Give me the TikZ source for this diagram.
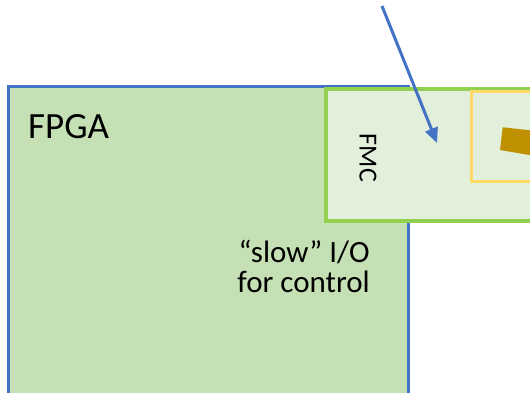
\documentclass[tikz,border=0pt]{standalone}
\usepackage{fontspec}
\setmainfont{Carlito}
\usetikzlibrary{arrows.meta,positioning}
\definecolor{fpgafill}{HTML}{C5E0B4}
\definecolor{fpgaline}{HTML}{4472C4}
\definecolor{fmcfill}{HTML}{E2EFDA}
\definecolor{fmcline}{HTML}{92D050}
\definecolor{slotline}{HTML}{FFD966}
\definecolor{plug}{HTML}{BF9000}
\tikzset{
    board/.style={draw=fpgaline, fill=fpgafill, line width=3pt},
    card/.style={draw=fmcline, fill=fmcfill, line width=3.5pt},
    slot/.style={draw=slotline, fill=fmcfill, line width=3pt},
    pointer/.style={draw=fpgaline, line width=3pt, -{Triangle[length=15pt,width=13pt]}},
}
\begin{document}
\begin{tikzpicture}[x=1pt, y=-1pt]
    \useasboundingbox (0,0) rectangle (530,393);
    \clip (0,0) rectangle (530,393);
        % boards
        \draw [board] (8, 87) rectangle (408, 397);
        \draw [card] (326, 89) rectangle (536, 221);
        \draw [slot] (471, 92) rectangle (540, 181);
        \fill [plug] (502.7, 127.3) -- (532, 130.5) -- (532, 155.5) -- (500, 150) -- cycle;
        % labels
        \node [anchor=base west, inner sep=0pt, font=\fontsize{37}{40}\selectfont] (fpga) at (28, 139) {FPGA};
        \node [anchor=center, inner sep=0pt, rotate=-90, font=\fontsize{26}{30}\selectfont] (fmc) at (368, 158) {FMC};
        \node [anchor=base east, inner sep=0pt, align=right, font=\fontsize{31}{30}\selectfont] (slow) at (370, 292) {``slow'' I/O\\for control};
        % pointer
        \coordinate (src) at (382, 6);
        \coordinate (tip) at (437, 143);
        \draw [pointer] (src) -- (tip);
\end{tikzpicture}
\end{document}
